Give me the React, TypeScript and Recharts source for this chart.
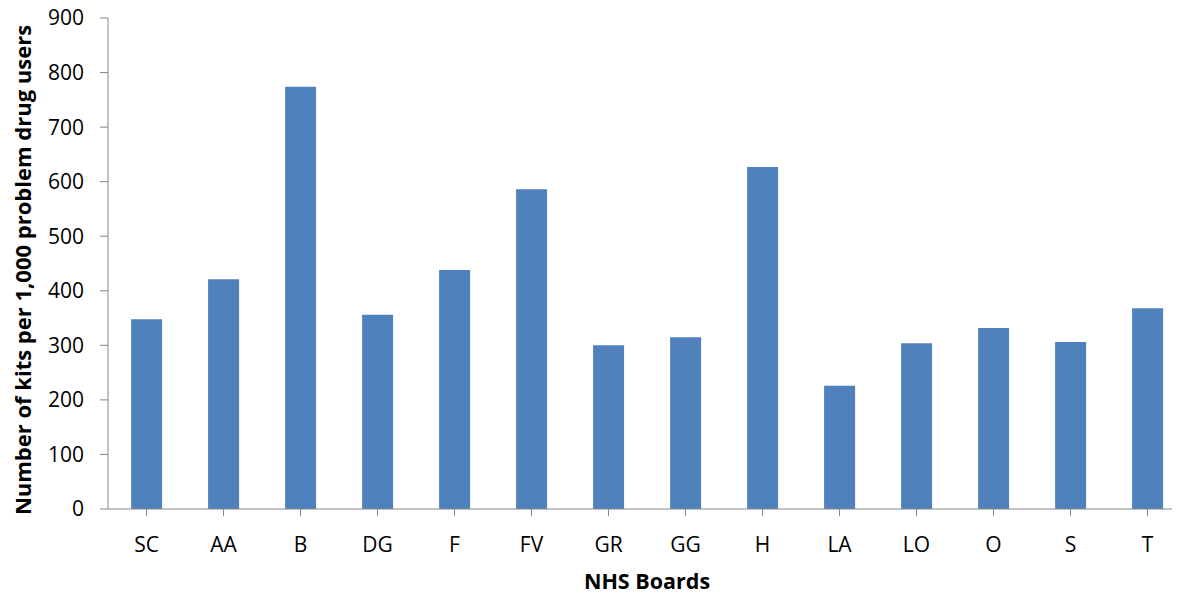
import { BarChart, Bar, XAxis, YAxis, Label } from "recharts";

// NHS board codes and kits issued per 1,000 problem drug users
const boards = ["SC", "AA", "B", "DG", "F", "FV", "GR", "GG", "H", "LA", "LO", "O", "S", "T"];
const kitsPer1000 = [348, 421, 774, 356, 438, 586, 300, 315, 627, 226, 304, 332, 306, 368];
const yTicks = [0, 100, 200, 300, 400, 500, 600, 700, 800, 900];

const data = boards.map((board, i) => ({ board, kits: kitsPer1000[i] }));

const font = "'Open Sans', 'Liberation Sans', sans-serif";
const axisGrey = "#868686";

function YTitle() {
  return (
    <text
      x={22}
      y={270}
      transform="rotate(-90 22 270)"
      textAnchor="middle"
      dominantBaseline="central"
      fontFamily={font}
      fontWeight={700}
      fontSize={22}
      fill="#000"
    >
      Number of kits per 1,000 problem drug users
    </text>
  );
}

export default function App() {
  return (
    <div style={{ margin: "-8px 0 0 -8px" }}>
      <BarChart
        width={1188}
        height={597}
        data={data}
        margin={{ top: 18, right: 2, left: 0, bottom: 0 }}
        barCategoryGap="30%"
      >
        <XAxis
          dataKey="board"
          height={88}
          stroke={axisGrey}
          tickSize={7}
          tickMargin={21}
          interval={0}
          tick={{ fontFamily: font, fontSize: 21, fill: "#000" }}
        >
          <Label
            value="NHS Boards"
            position="insideBottom"
            offset={8}
            style={{ fontFamily: font, fontWeight: 700, fontSize: 21.5, fill: "#000" }}
          />
        </XAxis>
        <YAxis
          width={108}
          domain={[0, 900]}
          ticks={yTicks}
          stroke={axisGrey}
          tickSize={8}
          tickMargin={16}
          tick={{ fontFamily: font, fontSize: 21, fill: "#000" }}
        >
          <Label content={() => <YTitle />} />
        </YAxis>
        <Bar dataKey="kits" fill="#4F81BD" isAnimationActive={false} />
      </BarChart>
    </div>
  );
}
